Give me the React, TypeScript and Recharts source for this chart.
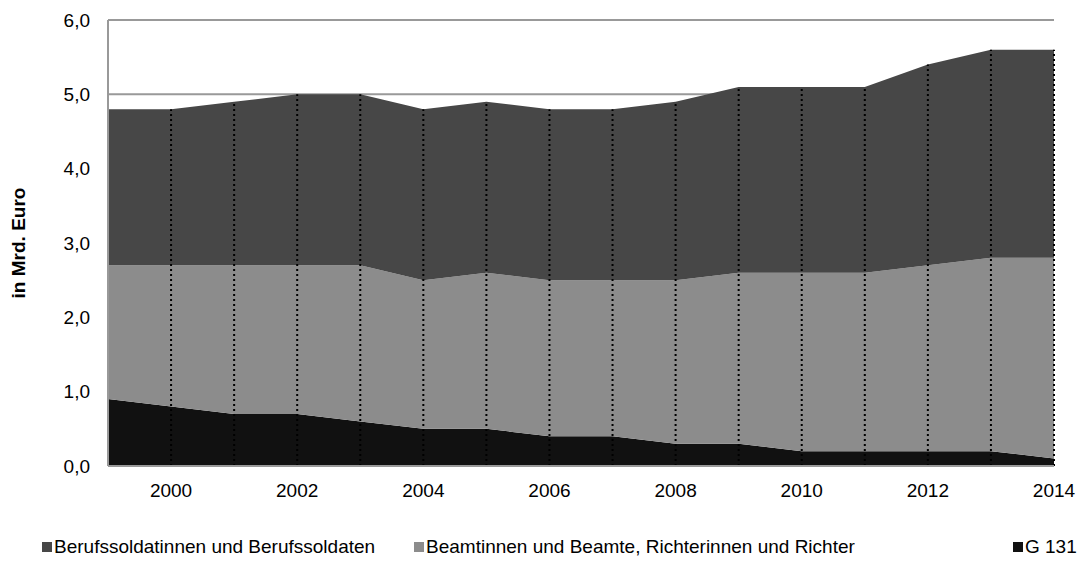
import React from "react";
import { AreaChart, Area, XAxis, YAxis, CartesianGrid, ReferenceLine } from "recharts";

const years = [1999, 2000, 2001, 2002, 2003, 2004, 2005, 2006, 2007, 2008, 2009, 2010, 2011, 2012, 2013, 2014];
const g131 = [0.9, 0.8, 0.7, 0.7, 0.6, 0.5, 0.5, 0.4, 0.4, 0.3, 0.3, 0.2, 0.2, 0.2, 0.2, 0.1];
const beamte = [1.8, 1.9, 2.0, 2.0, 2.1, 2.0, 2.1, 2.1, 2.1, 2.2, 2.3, 2.4, 2.4, 2.5, 2.6, 2.7];
const soldaten = [2.1, 2.1, 2.2, 2.3, 2.3, 2.3, 2.3, 2.3, 2.3, 2.4, 2.5, 2.5, 2.5, 2.7, 2.8, 2.8];
const xTicks = [2000, 2002, 2004, 2006, 2008, 2010, 2012, 2014];
const yTicks = [0, 1, 2, 3, 4, 5, 6];

const series = [
  { key: "soldaten", name: "Berufssoldatinnen und Berufssoldaten", color: "#474747" },
  { key: "beamte", name: "Beamtinnen und Beamte, Richterinnen und Richter", color: "#8c8c8c" },
  { key: "g131", name: "G 131", color: "#111111" },
];

const data = years.map((year, i) => ({
  year,
  g131: g131[i],
  beamte: beamte[i],
  soldaten: soldaten[i],
  total: g131[i] + beamte[i] + soldaten[i],
}));

const font = "'Liberation Sans', Arial, sans-serif";
const fmt = (v: number) => v.toFixed(1).replace(".", ",");

const YLabel = (props: any) => {
  const { viewBox } = props;
  const cy = viewBox.y + viewBox.height / 2;
  return (
    <text
      x={18}
      y={cy}
      transform={`rotate(-90 18 ${cy})`}
      textAnchor="middle"
      dominantBaseline="central"
      fontFamily={font}
      fontSize={19}
      fontWeight="bold"
      fill="#000"
    >
      in Mrd. Euro
    </text>
  );
};

const legendLeft = [42, 414, 1013];

export default function App() {
  return (
    <div style={{ position: "absolute", left: 0, top: 0, width: 1088, height: 571, fontFamily: font }}>
      <AreaChart width={1088} height={571} data={data} margin={{ top: 20, right: 34, left: 0, bottom: 65 }}>
        <CartesianGrid vertical={false} stroke="#999" strokeWidth={2} />
        <XAxis
          dataKey="year"
          type="number"
          domain={[1999, 2014]}
          ticks={xTicks}
          tickLine={false}
          axisLine={{ stroke: "#999", strokeWidth: 2 }}
          tickSize={6}
          tickMargin={12}
          height={40}
          tick={{ fontFamily: font, fontSize: 19, fill: "#000" }}
        />
        <YAxis
          width={108}
          domain={[0, 6]}
          ticks={yTicks}
          tickFormatter={fmt}
          tickLine={false}
          axisLine={{ stroke: "#999", strokeWidth: 2 }}
          tickSize={8}
          tickMargin={10}
          tick={{ fontFamily: font, fontSize: 19, fill: "#000" }}
          label={<YLabel />}
        />
        <Area type="linear" dataKey="g131" stackId="1" stroke="none" fill="#111111" fillOpacity={1} isAnimationActive={false} />
        <Area type="linear" dataKey="beamte" stackId="1" stroke="none" fill="#8c8c8c" fillOpacity={1} isAnimationActive={false} />
        <Area type="linear" dataKey="soldaten" stackId="1" stroke="none" fill="#474747" fillOpacity={1} isAnimationActive={false} />
        {data.slice(1).map((d) => (
          <ReferenceLine
            key={d.year}
            segment={[
              { x: d.year, y: 0 },
              { x: d.year, y: d.total },
            ]}
            stroke="#000"
            strokeWidth={2}
            strokeDasharray="2 3"
          />
        ))}
      </AreaChart>
      {series.map((s, i) => (
        <div
          key={s.key}
          style={{
            position: "absolute",
            left: legendLeft[i],
            top: 536,
            display: "flex",
            alignItems: "center",
            fontSize: 19,
            color: "#000",
            whiteSpace: "nowrap",
          }}
        >
          <span style={{ display: "inline-block", width: 10, height: 10, background: s.color, marginRight: 2 }} />
          {s.name}
        </div>
      ))}
    </div>
  );
}
